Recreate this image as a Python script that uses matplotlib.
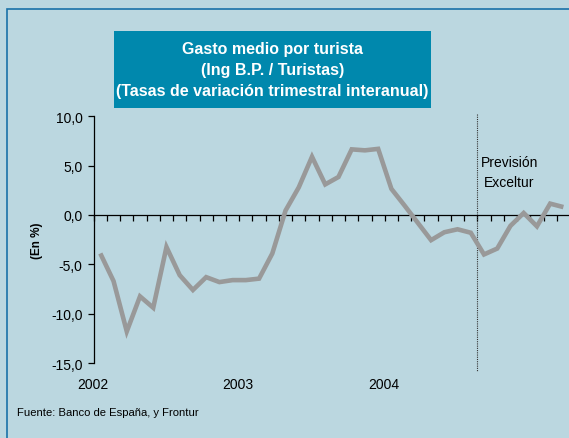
import matplotlib.pyplot as plt
from matplotlib.patches import Rectangle

plt.rcParams['font.family'] = ['Liberation Sans', 'DejaVu Sans']

# tasas de variación (%), 36 periodos desde 2002
valores = [-3.9, -6.7, -11.8, -8.25, -9.4, -3.25, -6.1, -7.6, -6.3, -6.8,
           -6.6, -6.6, -6.45, -3.9, 0.45, 2.8, 5.9, 3.1, 3.85, 6.65,
           6.55, 6.7, 2.65, 0.95, -0.8, -2.55, -1.75, -1.45, -1.8, -4.0,
           -3.4, -1.1, 0.2, -1.15, 1.15, 0.8]
anios = ['2002', '2003', '2004']
pos_anios = [-0.1, 10.9, 21.9]
yticks = [10, 5, 0, -5, -10, -15]
ytick_labels = ['10,0', '5,0', '0,0', '-5,0', '-10,0', '-15,0']
inicio_prevision = 29

fondo = '#bbd7e0'
fig = plt.figure(figsize=(5.69, 4.39), dpi=100, facecolor=fondo)

# marco azul
fig.patches.append(Rectangle((7.3 / 569, -0.1), 1.2, (439 - 10.3) / 439 + 0.1,
                             transform=fig.transFigure, fill=False,
                             edgecolor='#1a72a8', linewidth=1.2))

ax = fig.add_axes([93.7 / 569, 75 / 439, (570 - 93.7) / 569, (364 - 117.3) / 439])
ax.set_facecolor(fondo)
ax.patch.set_alpha(0)

x = [i + 0.5 for i in range(len(valores))]
ax.plot(x, valores, color='#999999', linewidth=3.3, solid_joinstyle='miter',
        solid_capstyle='butt', clip_on=False, zorder=3)

ax.set_xlim(0, len(valores))
ax.set_ylim(-15, 10)

ax.spines['top'].set_visible(False)
ax.spines['right'].set_visible(False)
ax.spines['bottom'].set_position(('data', 0))
ax.spines['left'].set_linewidth(0.9)
ax.spines['bottom'].set_linewidth(0.9)

ax.set_yticks(yticks)
ax.set_yticklabels(ytick_labels)
ax.set_xticks(range(0, len(valores)))
ax.set_xticklabels([])
ax.tick_params(axis='y', direction='out', length=4, width=0.9, pad=4,
               labelsize=10, colors='black')
ax.tick_params(axis='x', direction='out', length=4, width=0.9)

for a, p in zip(anios, pos_anios):
    ax.text(p, -17.1, a, ha='center', va='center', fontsize=10, clip_on=False)

# línea de previsión
ax.plot([inicio_prevision, inicio_prevision], [10.2, -15.8], color='#333333',
        linestyle=(0, (1, 1)), linewidth=0.8, clip_on=False)
ax.text(31.4, 4.35, 'Previsión\nExceltur', ha='center', va='center',
        fontsize=10, linespacing=1.6)

fig.text(36.7 / 569, 1 - 240.5 / 439, '(En %)', rotation=90, ha='center',
         va='center', fontsize=8.5, fontweight='bold')

# caja del título
fig.patches.append(Rectangle((114 / 569, 1 - 108.7 / 439), (430.7 - 114) / 569,
                             (108.7 - 32) / 439, transform=fig.transFigure,
                             facecolor='#0088ad', edgecolor='none'))
fig.text(272.5 / 569, 1 - 70.3 / 439,
         'Gasto medio por turista\n(Ing B.P. / Turistas)\n(Tasas de variación trimestral interanual)',
         ha='center', va='center', color='white', fontsize=11.5, fontweight='bold',
         linespacing=1.48)

fig.text(17 / 569, 1 - 412.7 / 439, 'Fuente: Banco de España, y Frontur',
         ha='left', va='center', fontsize=8.1)

fig.savefig('out.png', dpi=100, facecolor=fondo)
